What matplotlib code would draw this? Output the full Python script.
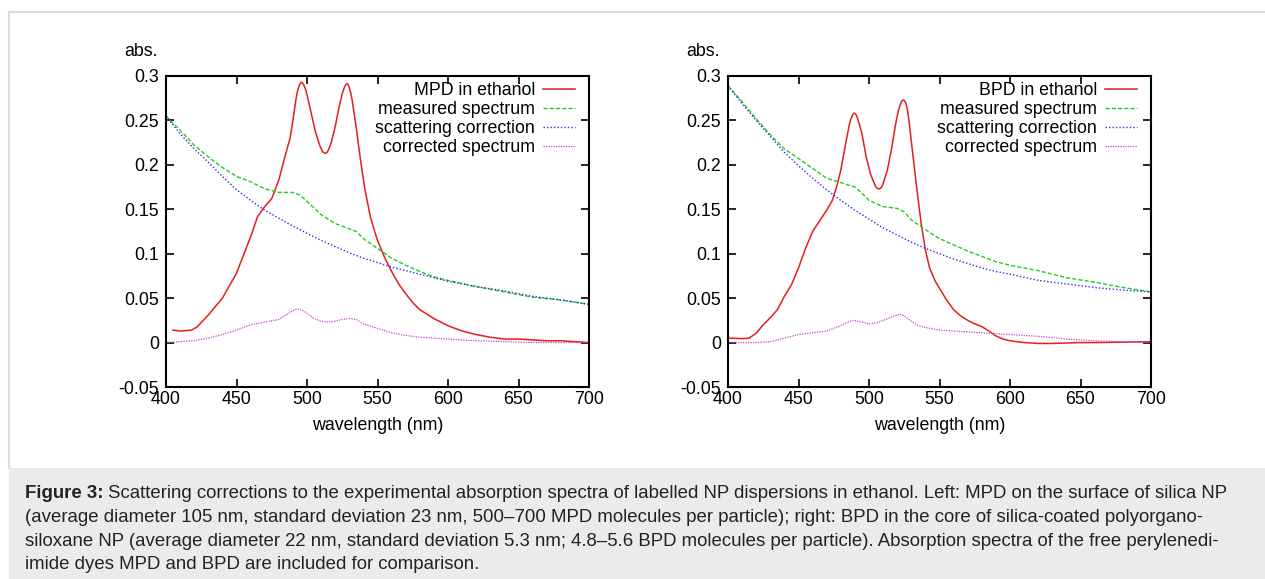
import matplotlib
matplotlib.use("Agg")
import matplotlib.pyplot as plt
from matplotlib.lines import Line2D
from matplotlib.patches import Rectangle
from matplotlib.ticker import FormatStrFormatter, MultipleLocator

plt.rcParams['font.family'] = ['Liberation Sans', 'DejaVu Sans']

# ---- left panel: MPD on silica NP ----
mpd_x = [405, 410, 418, 422, 430, 440, 450, 460, 465, 470, 475, 480, 485, 488, 490, 492,
         493, 494, 495, 496, 497, 498, 499, 500, 503, 506, 509, 511, 512, 513, 514, 515,
         517, 520, 523, 525, 526, 527, 528, 529, 530, 531, 532, 535, 538, 541, 545, 548,
         550, 555, 560, 565, 570, 575, 580, 590, 600, 610, 620, 630, 640, 650, 660, 670,
         680, 690, 700]
mpd_y = [0.014, 0.013, 0.014, 0.0175, 0.031, 0.050, 0.078, 0.119, 0.142, 0.153, 0.162,
         0.183, 0.213, 0.230, 0.250, 0.272, 0.281, 0.287, 0.291, 0.293, 0.292, 0.289,
         0.285, 0.279, 0.258, 0.237, 0.222, 0.215, 0.2135, 0.213, 0.2137, 0.216, 0.224,
         0.243, 0.267, 0.280, 0.285, 0.289, 0.291, 0.291, 0.287, 0.281, 0.273, 0.241,
         0.205, 0.173, 0.141, 0.125, 0.115, 0.096, 0.080, 0.066, 0.055, 0.045, 0.037,
         0.027, 0.019, 0.013, 0.009, 0.006, 0.004, 0.004, 0.003, 0.002, 0.002, 0.001, 0.0]

meas_l_x = [400, 410, 420, 430, 440, 450, 460, 470, 480, 490, 495, 500, 510, 520, 530,
            535, 540, 550, 560, 570, 580, 590, 600, 620, 640, 660, 680, 700]
meas_l_y = [0.255, 0.239, 0.222, 0.209, 0.197, 0.187, 0.181, 0.173, 0.169, 0.169, 0.166,
            0.159, 0.144, 0.134, 0.128, 0.125, 0.117, 0.106, 0.095, 0.087, 0.080, 0.074,
            0.070, 0.063, 0.057, 0.051, 0.048, 0.043]

scat_l_x = [400, 410, 420, 430, 440, 450, 460, 470, 480, 490, 500, 510, 520, 530, 540,
            550, 560, 570, 580, 590, 600, 620, 640, 660, 680, 700]
scat_l_y = [0.255, 0.235, 0.218, 0.203, 0.187, 0.172, 0.160, 0.149, 0.140, 0.131, 0.123,
            0.115, 0.108, 0.101, 0.095, 0.090, 0.085, 0.081, 0.077, 0.073, 0.069, 0.063,
            0.058, 0.052, 0.048, 0.043]

corr_l_x = [400, 420, 430, 440, 450, 460, 470, 480, 485, 490, 493, 496, 500, 505, 510,
            515, 520, 525, 530, 535, 540, 550, 560, 570, 580, 600, 620, 640, 660, 680, 700]
corr_l_y = [0.0, 0.002, 0.005, 0.009, 0.014, 0.020, 0.023, 0.026, 0.031, 0.036, 0.038,
            0.037, 0.033, 0.027, 0.024, 0.023, 0.024, 0.026, 0.027, 0.026, 0.021, 0.016,
            0.011, 0.008, 0.006, 0.004, 0.002, 0.001, 0.0, 0.0, 0.0]

# ---- right panel: BPD in polyorganosiloxane NP ----
bpd_x = [400, 410, 415, 420, 425, 430, 435, 440, 445, 450, 455, 460, 465, 470, 474, 477,
         480, 483, 486, 487, 488, 489, 490, 491, 492, 495, 498, 501, 504, 505, 506, 507,
         508, 509, 510, 513, 516, 519, 521, 522, 523, 524, 525, 526, 527, 528, 531, 534,
         537, 540, 543, 547, 550, 555, 560, 565, 570, 575, 580, 585, 590, 595, 600, 610,
         620, 630, 640, 650, 660, 680, 700]
bpd_y = [0.005, 0.0045, 0.005, 0.0105, 0.020, 0.028, 0.037, 0.052, 0.065, 0.084, 0.106,
         0.125, 0.137, 0.149, 0.160, 0.175, 0.194, 0.220, 0.245, 0.251, 0.255, 0.258,
         0.258, 0.256, 0.252, 0.235, 0.209, 0.190, 0.178, 0.175, 0.1735, 0.173, 0.1735,
         0.175, 0.179, 0.194, 0.218, 0.247, 0.262, 0.267, 0.271, 0.273, 0.2725, 0.270,
         0.264, 0.254, 0.213, 0.172, 0.134, 0.104, 0.084, 0.069, 0.061, 0.048, 0.037,
         0.030, 0.025, 0.021, 0.018, 0.013, 0.0075, 0.004, 0.002, 0.0, -0.001, -0.001,
         -0.0005, 0.0, 0.0, 0.0005, 0.001]

meas_r_x = [400, 410, 420, 430, 440, 450, 460, 470, 480, 490, 495, 500, 510, 520, 525,
            530, 540, 550, 560, 570, 580, 590, 600, 620, 640, 660, 680, 700]
meas_r_y = [0.289, 0.271, 0.252, 0.234, 0.218, 0.207, 0.196, 0.185, 0.180, 0.175, 0.168,
            0.160, 0.153, 0.151, 0.147, 0.138, 0.127, 0.117, 0.110, 0.103, 0.097, 0.091,
            0.087, 0.081, 0.073, 0.068, 0.062, 0.057]

scat_r_x = [400, 410, 420, 430, 440, 450, 460, 470, 480, 490, 500, 510, 520, 530, 540,
            550, 560, 570, 580, 590, 600, 620, 640, 660, 680, 700]
scat_r_y = [0.289, 0.269, 0.250, 0.232, 0.214, 0.199, 0.185, 0.172, 0.160, 0.149, 0.139,
            0.129, 0.121, 0.113, 0.106, 0.100, 0.094, 0.089, 0.084, 0.080, 0.077, 0.070,
            0.066, 0.062, 0.059, 0.057]

corr_r_x = [400, 420, 430, 440, 450, 460, 470, 480, 485, 489, 495, 500, 505, 510, 515,
            520, 522, 525, 530, 535, 540, 550, 560, 570, 580, 590, 600, 620, 640, 660,
            680, 700]
corr_r_y = [0.0, 0.0, 0.001, 0.005, 0.009, 0.011, 0.013, 0.019, 0.023, 0.025, 0.023,
            0.021, 0.022, 0.025, 0.028, 0.031, 0.032, 0.030, 0.024, 0.019, 0.017, 0.014,
            0.013, 0.012, 0.011, 0.010, 0.009, 0.007, 0.004, 0.002, 0.001, 0.0]

caption_lines = [
    "Scattering corrections to the experimental absorption spectra of labelled NP dispersions in ethanol. Left: MPD on the surface of silica NP",
    "(average diameter 105 nm, standard deviation 23 nm, 500\u2013700 MPD molecules per particle); right: BPD in the core of silica-coated polyorgano-",
    "siloxane NP (average diameter 22 nm, standard deviation 5.3 nm; 4.8\u20135.6 BPD molecules per particle). Absorption spectra of the free perylenedi-",
    "imide dyes MPD and BPD are included for comparison.",
]

W, H = 1265, 579
fig = plt.figure(figsize=(W / 100, H / 100), dpi=100)

# frame + caption box
fig.add_artist(Line2D([9 / W, 1], [1 - 12 / H, 1 - 12 / H], color='#dcdcdc', lw=1.5,
                      transform=fig.transFigure))
fig.add_artist(Line2D([9 / W, 9 / W], [1 - 12 / H, 1 - 468 / H], color='#dcdcdc', lw=1.5,
                      transform=fig.transFigure))
fig.add_artist(Rectangle((9 / W, 0), 1 - 9 / W, 1 - 468 / H, color='#ebebeb', lw=0,
                         transform=fig.transFigure))

red, green, blue, magenta = '#e41e1e', '#22cc22', '#2b2bee', '#cc44cc'
FS = 12.8

panels = [
    (166, 'MPD in ethanol', (mpd_x, mpd_y), (meas_l_x, meas_l_y), (scat_l_x, scat_l_y), (corr_l_x, corr_l_y)),
    (728, 'BPD in ethanol', (bpd_x, bpd_y), (meas_r_x, meas_r_y), (scat_r_x, scat_r_y), (corr_r_x, corr_r_y)),
]

for left, name, dye, meas, scat, corr in panels:
    ax = fig.add_axes([left / W, 1 - 387 / H, 423 / W, 311 / H])
    ax.plot(*dye, color=red, lw=1.1, label=name)
    ax.plot(*meas, color=green, lw=1.0, dashes=(3, 1.5), label='measured spectrum')
    ax.plot(*scat, color=blue, lw=1.0, dashes=(1, 1.5), label='scattering correction')
    ax.plot(*corr, color=magenta, lw=0.9, dashes=(1, 1), label='corrected spectrum')
    ax.set_xlim(400, 700)
    ax.set_ylim(-0.05, 0.3)
    ax.xaxis.set_major_locator(MultipleLocator(50))
    ax.yaxis.set_major_locator(MultipleLocator(0.05))
    ax.yaxis.set_major_formatter(FormatStrFormatter('%g'))
    ax.tick_params(direction='in', top=True, right=True, length=6, width=1.2,
                   labelsize=FS, colors='black')
    ax.tick_params(axis='y', pad=5)
    ax.tick_params(axis='x', pad=3)
    for s in ax.spines.values():
        s.set_linewidth(1.5)
    ax.text(-8 / 423, 1 + 24 / 311, 'abs.', transform=ax.transAxes, ha='right',
            va='center', fontsize=FS)
    ax.text(0.5, -38 / 311, 'wavelength (nm)', transform=ax.transAxes, ha='center',
            va='center', fontsize=FS)
    ax.legend(loc='upper right', bbox_to_anchor=(1 - 14 / 423, 1 - 6 / 311), frameon=False,
              markerfirst=False, fontsize=FS, handlelength=1.8, handletextpad=0.45,
              labelspacing=0.12, borderpad=0, borderaxespad=0)

# caption
renderer = fig.canvas.get_renderer()
cfs = 13.45
x0 = 25 / W
ys = [494, 517.5, 541, 564.5]
lab = fig.text(x0, 1 - ys[0] / H, 'Figure 3:', fontsize=cfs, fontweight='bold',
               va='center', ha='left', color='#222222')
bb = lab.get_window_extent(renderer)
fig.text((bb.x1 + 4) / W, 1 - ys[0] / H, caption_lines[0], fontsize=cfs, va='center',
         ha='left', color='#222222')
for line, yy in zip(caption_lines[1:], ys[1:]):
    fig.text(x0, 1 - yy / H, line, fontsize=cfs, va='center', ha='left', color='#222222')

fig.savefig('out.png', dpi=100)
